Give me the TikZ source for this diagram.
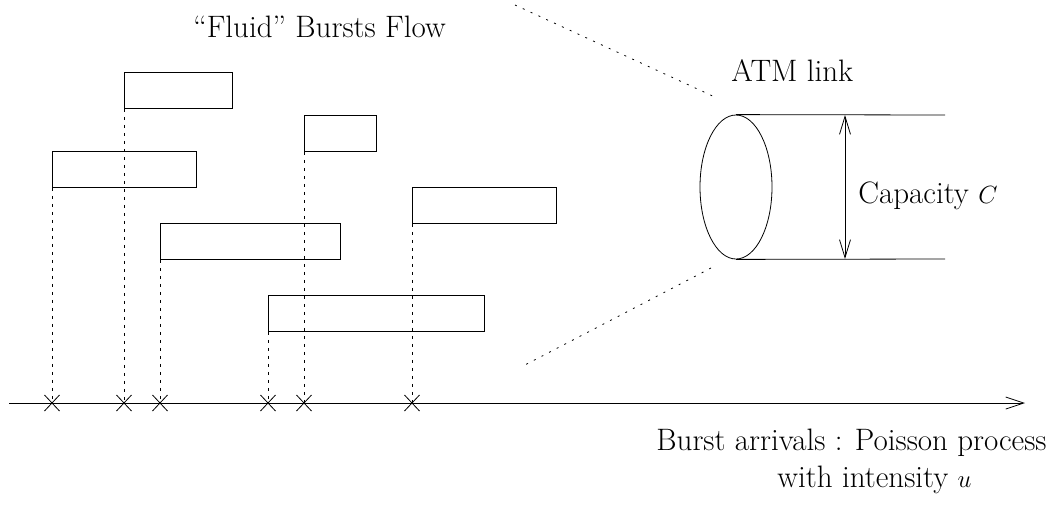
\documentclass[tikz,border=0pt]{standalone}
\usetikzlibrary{arrows.meta,shapes.geometric}
\begin{document}
\begin{tikzpicture}[x=1pt,y=-1pt,line width=0.8pt,
  font=\fontsize{31}{37}\selectfont,
  burst/.style={draw,rectangle,inner sep=0pt,anchor=north west},
  drop/.style={dash pattern=on 3pt off 5pt},
  zoomline/.style={dash pattern=on 2pt off 6.6pt},
  xmark/.style={line width=0.8pt},
  barb/.style={-{Straight Barb[length=18pt,width=12pt,line width=0.8pt]}},
  dbarb/.style={{Straight Barb[length=18pt,width=11pt,line width=0.8pt]}-{Straight Barb[length=18pt,width=11pt,line width=0.8pt]}}]
\useasboundingbox (0,0) rectangle (1055,504);

% bursts
\node[burst,minimum width=108pt,minimum height=36pt] (b1) at (124,72) {};
\node[burst,minimum width=144pt,minimum height=36pt] (b2) at (52,151) {};
\node[burst,minimum width=72pt,minimum height=36pt] (b3) at (304,115) {};
\node[burst,minimum width=180pt,minimum height=36pt] (b4) at (160,223) {};
\node[burst,minimum width=144pt,minimum height=36pt] (b5) at (412,187) {};
\node[burst,minimum width=216pt,minimum height=36pt] (b6) at (268,295) {};

% axis
\coordinate (ax0) at (9,403);
\coordinate (ax1) at (1025,403);
\draw[barb] (ax0) -- (ax1);

% arrival marks
\foreach \n/\x in {1/124,2/52,3/304,4/160,5/412,6/268}{
  \coordinate (t\n) at (\x,403);
  \draw[xmark] ([shift={(-7.5,-8)}]t\n) -- ([shift={(7.5,8)}]t\n);
  \draw[xmark] ([shift={(-7.5,8)}]t\n) -- ([shift={(7.5,-8)}]t\n);
  \draw[drop] (b\n.south west) -- (t\n);
}

% ATM link
\node[draw,ellipse,inner sep=0pt,minimum width=72pt,minimum height=144pt] (link) at (736,187) {};
\coordinate (top) at (945,115);
\coordinate (bot) at (945,259);
\draw (link.north) -- (top);
\draw (link.south) -- (bot);
\coordinate (cu) at (845,115);
\coordinate (cd) at (845,259);
\draw[dbarb] (cu) -- (cd);

% zoom lines
\coordinate (z1) at (515,5);
\coordinate (z2) at (717,98);
\coordinate (z3) at (711,268);
\coordinate (z4) at (523,366);
\draw[zoomline] (z1) -- (z2);
\draw[zoomline] (z3) -- (z4);

% labels
\node[anchor=base west,inner sep=0pt] (title) at (193,37) {``Fluid'' Bursts Flow};
\node[anchor=base west,inner sep=0pt] (atm) at (731,81) {ATM link};
\node[anchor=base west,inner sep=0pt] (cap) at (858,203) {Capacity $C$};
\node[anchor=base east,inner sep=0pt] (arr) at (1047,450) {Burst arrivals : Poisson process};
\node[anchor=base east,inner sep=0pt] (int) at (972,487) {with intensity $u$};
\end{tikzpicture}
\end{document}
